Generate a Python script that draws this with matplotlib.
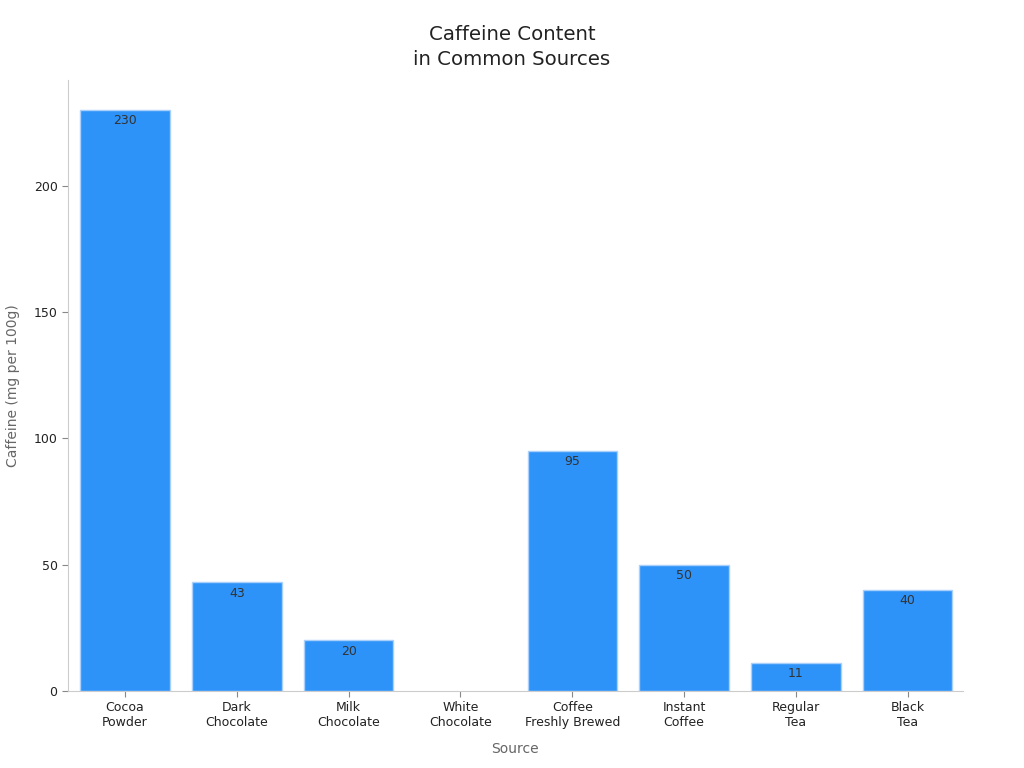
import numpy as np
import matplotlib.pyplot as plt

# data
sources = ["Cocoa\nPowder", "Dark\nChocolate", "Milk\nChocolate", "White\nChocolate",
           "Coffee\nFreshly Brewed", "Instant\nCoffee", "Regular\nTea", "Black\nTea"]
caffeine = [230, 43, 20, 0, 95, 50, 11, 40]

bar_color = "#2d93f8"
edge_color = "#a9d0fb"
text_color = "#333333"


def main():
    fig = plt.figure(figsize=(10.24, 7.68), dpi=100)
    ax = fig.add_axes([0.0664, 0.1003, 0.8736, 0.7957])

    x = np.arange(len(sources))
    edges = [edge_color if v > 0 else "none" for v in caffeine]
    bars = ax.bar(x, caffeine, width=0.8, color=bar_color,
                  edgecolor=edges, linewidth=1)

    # value labels just under the top of each bar
    for b, v in zip(bars, caffeine):
        if v == 0:
            continue
        ax.annotate(f"{v}", (b.get_x() + b.get_width() / 2, v),
                    xytext=(0, -3), textcoords="offset points",
                    ha="center", va="top", fontsize=9, color=text_color)

    ax.set_xlim(-0.51, 7.49)
    ax.set_ylim(0, 242)
    ax.set_yticks([0, 50, 100, 150, 200])
    ax.set_xticks(x)
    ax.set_xticklabels(sources)
    ax.tick_params(colors="#888888", length=4, labelsize=9,
                   labelcolor="#222222")
    ax.tick_params(axis="x", pad=3.5)

    for s in ["top", "right"]:
        ax.spines[s].set_visible(False)
    for s in ["left", "bottom"]:
        ax.spines[s].set_color("#cccccc")

    ax.set_xlabel("Source", fontsize=10, color="#666666", labelpad=9)
    ax.set_ylabel("Caffeine (mg per 100g)", fontsize=10, color="#666666", labelpad=10)
    fig.suptitle("Caffeine Content\nin Common Sources", fontsize=14.2,
                 color="#222222", y=0.968, linespacing=1.45)

    fig.savefig("out.png", dpi=100)


if __name__ == "__main__":
    main()
